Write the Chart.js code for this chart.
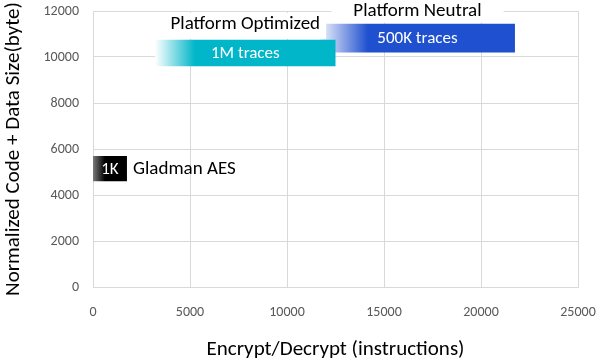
<!DOCTYPE html>
<html>
<head>
<meta charset="utf-8">
<script src="https://cdn.jsdelivr.net/npm/chart.js@4/dist/chart.umd.min.js"></script>
<style>
html,body{margin:0;padding:0;background:#fff;}
#wrap{width:600px;height:360px;}
</style>
</head>
<body>
<div id="wrap"><canvas id="c" width="600" height="360"></canvas></div>
<script>
// ---- data ----
const barTexts   = ['1K', '1M traces', '500K traces'];
const groupNames = ['Gladman AES', 'Platform Optimized', 'Platform Neutral'];
const xStart     = [0, 3200, 11700];
const xEnd       = [1750, 12500, 21750];
const yLow       = [4600, 9600, 10200];
const yHigh      = [5700, 10750, 11450];
const xTickStep  = 5000;
const yTickStep  = 2000;
const xMax       = 25000;
const yMax       = 12000;
const xTitle     = 'Encrypt/Decrypt (instructions)';
const yTitle     = 'Normalized Code + Data Size(byte)';

// ---- styles ----
const FONT = 'Carlito, Lato, sans-serif';
const fullColors  = ['#000000', '#00B6C8', '#1F50CF'];
const startColors = ['#7a7a7a', '#ffffff', '#f2f5fc'];
const fadeWidths  = [12, 40, 48];

function rectPoints(i){
  return [
    {x:xStart[i], y:yLow[i]}, {x:xEnd[i], y:yLow[i]},
    {x:xEnd[i], y:yHigh[i]}, {x:xStart[i], y:yHigh[i]},
    {x:xStart[i], y:yLow[i]}
  ];
}

function gradFor(i){
  return function(ctx){
    const chart = ctx.chart;
    const sx = chart.scales && chart.scales.x;
    if(!chart.chartArea || !sx) return fullColors[i];
    const x0 = sx.getPixelForValue(xStart[i]);
    const g = chart.ctx.createLinearGradient(x0, 0, x0 + fadeWidths[i], 0);
    g.addColorStop(0, startColors[i]);
    g.addColorStop(1, fullColors[i]);
    return g;
  };
}

const datasets = barTexts.map((t, i) => ({
  label: t,
  data: rectPoints(i),
  showLine: true,
  borderWidth: 0,
  borderColor: 'rgba(0,0,0,0)',
  pointRadius: 0,
  pointHoverRadius: 0,
  fill: 'shape',
  backgroundColor: gradFor(i),
  tension: 0
}));

const labelPlugin = {
  id: 'barLabels',
  afterDatasetsDraw(chart){
    const c = chart.ctx, sx = chart.scales.x, sy = chart.scales.y;
    c.save();
    c.textBaseline = 'middle';
    for(let i=0;i<barTexts.length;i++){
      const xa = sx.getPixelForValue(xStart[i]), xb = sx.getPixelForValue(xEnd[i]);
      const ya = sy.getPixelForValue(yHigh[i]), yb = sy.getPixelForValue(yLow[i]);
      const cx = (xa+xb)/2, cy = (ya+yb)/2;
      c.fillStyle = '#ffffff';
      c.textAlign = 'center';
      c.font = '17px ' + FONT;
      c.fillText(barTexts[i], cx, cy + 1);
    }
    {
      const xb = sx.getPixelForValue(xEnd[0]);
      const cy = (sy.getPixelForValue(yHigh[0]) + sy.getPixelForValue(yLow[0]))/2;
      c.fillStyle = '#000';
      c.textAlign = 'left';
      c.font = '19px ' + FONT;
      c.fillText(groupNames[0], xb + 6, cy + 1);
    }
    const offs = [0, 16, 12];
    const boxPad = [0, 6, 22];
    const boxTop = [0, 13, 0];
    for(let i=1;i<3;i++){
      const xa = sx.getPixelForValue(xStart[i]), xb = sx.getPixelForValue(xEnd[i]);
      const ya = sy.getPixelForValue(yHigh[i]);
      const cx = (xa+xb)/2, cy = ya - offs[i];
      c.font = '19px ' + FONT;
      const w = c.measureText(groupNames[i]).width;
      c.fillStyle = '#fff';
      c.fillRect(cx - w/2 - boxPad[i], boxTop[i], w + 2*boxPad[i], ya - boxTop[i] - 1);
      c.fillStyle = '#000';
      c.textAlign = 'center';
      c.fillText(groupNames[i], cx, cy);
    }
    c.restore();
  }
};

const plainNum = v => String(v);

new Chart(document.getElementById('c'), {
  type: 'scatter',
  data: { datasets },
  plugins: [labelPlugin],
  options: {
    responsive: false,
    animation: false,
    events: [],
    layout: { padding: { top: 11, right: 22, left: 0, bottom: 0 } },
    plugins: { legend: {display:false}, tooltip: {enabled:false} },
    scales: {
      x: {
        type: 'linear', min: 0, max: xMax,
        ticks: { stepSize: xTickStep, color: '#595959', font: {family: FONT, size: 14}, padding: 17, maxRotation: 0, callback: plainNum },
        grid: { color: '#d9d9d9', drawTicks: false },
        border: { color: '#d9d9d9' },
        title: { display: true, text: xTitle, color: '#000', font: {family: FONT, size: 21}, padding: {top: 15, bottom: -2} },
        afterFit(s){ s.height = 73; s.paddingLeft = 0; s.paddingRight = 0; }
      },
      y: {
        type: 'linear', min: 0, max: yMax,
        ticks: { stepSize: yTickStep, color: '#595959', font: {family: FONT, size: 14}, padding: 14, callback: plainNum },
        grid: { color: '#d9d9d9', drawTicks: false },
        border: { color: '#d9d9d9' },
        title: { display: true, text: yTitle, color: '#000', font: {family: FONT, size: 21}, padding: {top: 1, bottom: 0} },
        afterFit(s){ s.width = 93; s.paddingTop = 0; s.paddingBottom = 0; }
      }
    }
  }
});
</script>
</body>
</html>
